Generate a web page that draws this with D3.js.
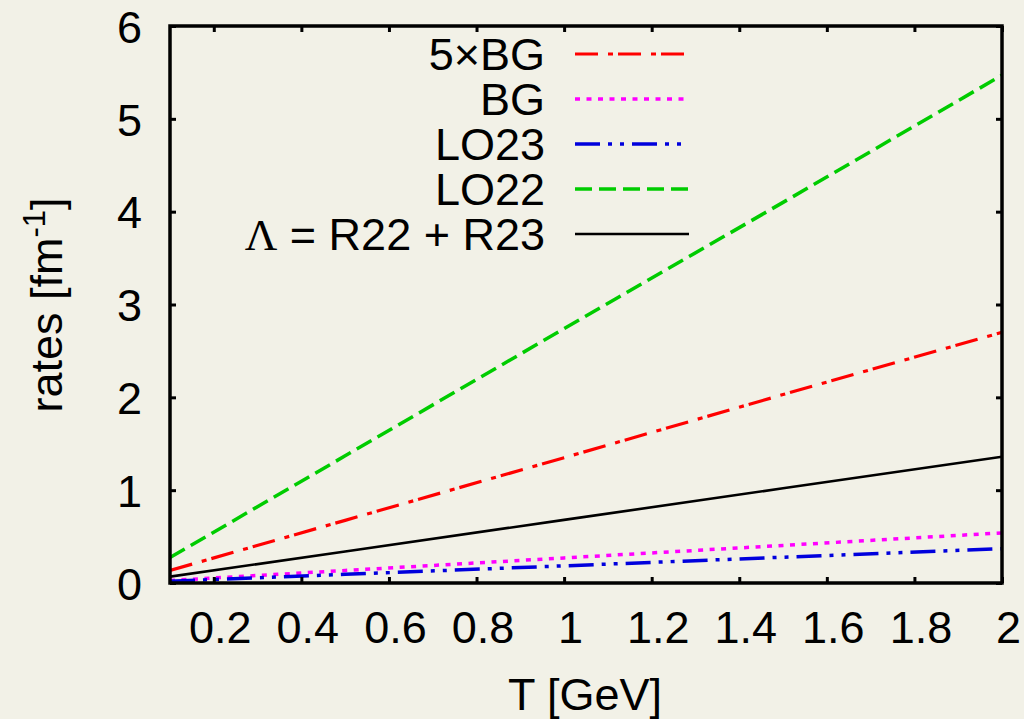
<!DOCTYPE html>
<html><head><meta charset="utf-8">
<script src="https://cdn.jsdelivr.net/npm/d3@7"></script>
<style>
html,body{margin:0;padding:0;background:#f2f1e7;}
svg{display:block;font-family:"Liberation Sans",Arial,sans-serif;}
</style></head>
<body>
<svg id="chart" width="1024" height="719"></svg>
<script>
// Data
const T = [0.1, 0.5, 1.0, 1.5, 2.0];
const fiveBG = [0.135, 0.675, 1.35, 2.03, 2.70];
const BG = [0.027, 0.135, 0.27, 0.405, 0.54];
const LO23 = [0.019, 0.093, 0.185, 0.278, 0.37];
const LO22 = [0.274, 1.37, 2.74, 4.1, 5.47];
const Lambda = [0.068, 0.34, 0.68, 1.02, 1.36];
const xTicks = [0.2, 0.4, 0.6, 0.8, 1, 1.2, 1.4, 1.6, 1.8, 2];
const yTicks = [0, 1, 2, 3, 4, 5, 6];
const seriesNames = ["5×BG", "BG", "LO23", "LO22", "Λ = R22 + R23"];

const series = [
  {name: seriesNames[0], values: fiveBG, color: "#ff0000", dash: "23,10,5,5", w: 3.2},
  {name: seriesNames[1], values: BG, color: "#ff00ff", dash: "5,6.5", w: 3.5},
  {name: seriesNames[2], values: LO23, color: "#0000dd", dash: "25,8,4,8,4,8", w: 3.5},
  {name: seriesNames[3], values: LO22, color: "#00cc00", dash: "17,7", w: 3.5},
  {name: seriesNames[4], values: Lambda, color: "#000000", dash: null, w: 2.6}
];

const FS = 45;
const svg = d3.select("#chart");
const L = 170, R = 1002, Tp = 26, B = 583;
const x = d3.scaleLinear().domain([0.1, 2]).range([L, R]);
const y = d3.scaleLinear().domain([0, 6]).range([B, Tp]);

svg.append("rect").attr("width", 1024).attr("height", 719).attr("fill", "#f2f1e7");

svg.append("clipPath").attr("id", "clip").append("rect")
  .attr("x", L).attr("y", Tp).attr("width", R - L).attr("height", B - Tp);

const line = d3.line().x((d, i) => x(T[i])).y(d => y(d));
const g = svg.append("g").attr("clip-path", "url(#clip)");
series.forEach(s => {
  g.append("path").datum(s.values)
    .attr("d", line)
    .attr("fill", "none")
    .attr("stroke", s.color)
    .attr("stroke-width", s.w)
    .attr("stroke-dasharray", s.dash)
    .attr("stroke-linecap", "butt");
});

// Axes with inward ticks
const fmt = d => String(d);
const xb = svg.append("g").attr("transform", `translate(0,${B})`)
  .call(d3.axisBottom(x).tickValues(xTicks).tickSize(-6).tickFormat(fmt).tickPadding(0));
const xt = svg.append("g").attr("transform", `translate(0,${Tp})`)
  .call(d3.axisTop(x).tickValues(xTicks).tickSize(-6).tickFormat(""));
const yl = svg.append("g").attr("transform", `translate(${L},0)`)
  .call(d3.axisLeft(y).tickValues(yTicks).tickSize(-6).tickFormat(fmt));
const yr = svg.append("g").attr("transform", `translate(${R},0)`)
  .call(d3.axisRight(y).tickValues(yTicks).tickSize(-6).tickFormat(""));
[xb, xt, yl, yr].forEach(a => {
  a.select(".domain").remove();
  a.selectAll(".tick line").attr("stroke", "#000").attr("stroke-width", 3);
});
xb.selectAll(".tick text").attr("font-size", FS).attr("fill", "#000")
  .attr("dy", null).attr("y", 60).attr("x", 6).attr("font-family", "Liberation Sans, Arial, sans-serif");
yl.selectAll(".tick text").attr("font-size", FS).attr("fill", "#000")
  .attr("x", -28).attr("dy", "0.36em").attr("font-family", "Liberation Sans, Arial, sans-serif");

// frame
svg.append("rect").attr("x", L).attr("y", Tp).attr("width", R - L).attr("height", B - Tp)
  .attr("fill", "none").attr("stroke", "#000").attr("stroke-width", 3.5);

// Axis titles
svg.append("text").attr("x", 585).attr("y", 710).attr("text-anchor", "middle")
  .attr("font-size", FS).attr("fill", "#000").text("T [GeV]");
const yt = svg.append("text").attr("transform", "translate(62,305) rotate(-90)")
  .attr("text-anchor", "middle").attr("font-size", FS).attr("fill", "#000");
yt.append("tspan").text("rates [fm");
yt.append("tspan").attr("dy", -17).attr("font-size", 31).text("-1");
yt.append("tspan").attr("dy", 17).text("]");

// Legend
const legY0 = 54, legDy = 45;
series.forEach((s, i) => {
  const yy = legY0 + i * legDy;
  const t = svg.append("text").attr("x", 545).attr("y", yy).attr("dy", "0.36em")
    .attr("text-anchor", "end").attr("font-size", FS).attr("fill", "#000");
  if (i === 4) {
    t.append("tspan").attr("font-family", "Liberation Serif, Times New Roman, serif").text("Λ");
    t.append("tspan").text(" = R22 + R23");
  } else {
    t.text(s.name);
  }
  svg.append("line").attr("x1", 575).attr("x2", 689).attr("y1", yy).attr("y2", yy)
    .attr("stroke", s.color).attr("stroke-width", s.w)
    .attr("stroke-dasharray", s.dash).attr("stroke-linecap", "butt");
});
</script>
</body></html>
